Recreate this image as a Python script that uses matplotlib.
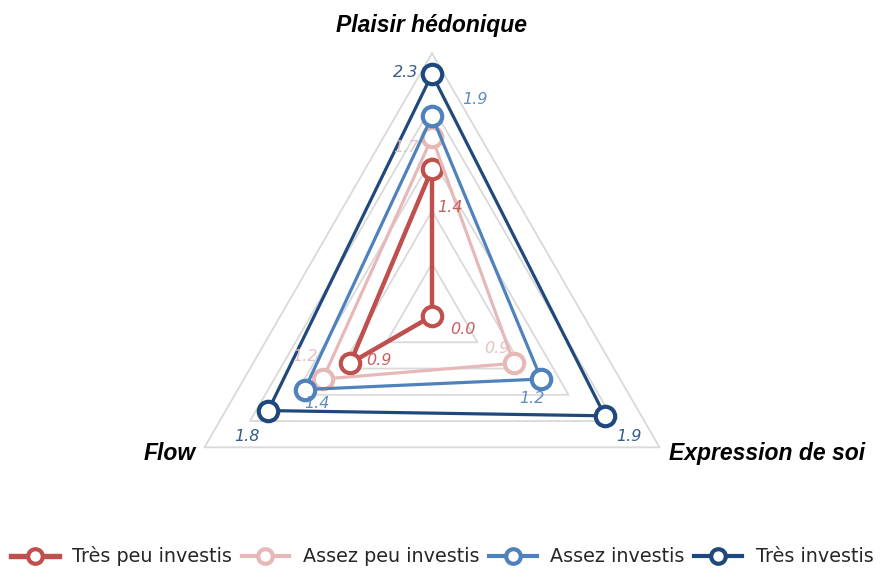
import numpy as np
import matplotlib
matplotlib.use("Agg")
import matplotlib.pyplot as plt
from matplotlib.lines import Line2D

# axes clockwise from top
AXES = ["Plaisir hédonique", "Expression de soi", "Flow"]
SERIES = ["Très peu investis", "Assez peu investis", "Assez investis", "Très investis"]
tres_peu = [1.4, 0.0, 0.9]
assez_peu = [1.7, 0.9, 1.2]
assez = [1.9, 1.2, 1.4]
tres = [2.3, 1.9, 1.8]
VALUES = [tres_peu, assez_peu, assez, tres]
GRID_LEVELS = [0.5, 1.0, 1.5, 2.0, 2.5]
R_MAX = 2.5

COLORS = ["#C0504D", "#E6B9B8", "#4F81BD", "#1F497D"]
WIDTHS = [3.2, 2.3, 2.3, 2.3]
# data-label offsets (points) per series, per axis
LABEL_OFFSETS = [
    [(13, -28), (22, -10), (21, 2)],
    [(-19, -7), (-12, 11), (-13, 16)],
    [(31, 12), (-7, -14), (9, -10)],
    [(-19, 1), (17, -15), (-15, -19)],
]

plt.rcParams["font.family"] = ["DejaVu Sans"]

fig = plt.figure(figsize=(8.84, 5.75), dpi=100)
cx, cy, rad = 432.0, 316.0, 262.7
W, H = 884.0, 575.0
ax = fig.add_axes([(cx - rad) / W, (H - cy - rad) / H, 2 * rad / W, 2 * rad / H],
                  projection="polar")
ax.set_theta_offset(np.pi / 2)
ax.set_theta_direction(-1)
ax.set_ylim(0, R_MAX)
ax.grid(False)
ax.set_xticks([])
ax.set_yticks([])
ax.spines["polar"].set_visible(False)
ax.patch.set_visible(False)

theta = np.linspace(0, 2 * np.pi, len(AXES), endpoint=False)
theta_closed = np.append(theta, theta[0])

for lvl in GRID_LEVELS:
    ax.plot(theta_closed, [lvl] * (len(AXES) + 1), color="#D9D9D9", lw=1.3, zorder=1,
            clip_on=False)

for i, (name, vals) in enumerate(zip(SERIES, VALUES)):
    v = np.append(vals, vals[0])
    ax.plot(theta_closed, v, color=COLORS[i], lw=WIDTHS[i], zorder=2 + i, clip_on=False,
            solid_joinstyle="miter")
    ax.plot(theta, vals, ls="none", marker="o", ms=14, mfc="white", mec=COLORS[i],
            mew=3.0, zorder=2 + i, clip_on=False)
    for k, val in enumerate(vals):
        ax.annotate(f"{val:.1f}", xy=(theta[k], val), xytext=LABEL_OFFSETS[i][k],
                    textcoords="offset points", ha="center", va="center",
                    fontsize=11.5, style="italic", weight="light", color=COLORS[i],
                    alpha=0.9, annotation_clip=False, zorder=10)

cat_offsets = [(0, 20), (7, -4.5), (-6, -4.5)]
cat_ha = ["center", "left", "right"]
for k, name in enumerate(AXES):
    ax.annotate(name, xy=(theta[k], R_MAX), xytext=cat_offsets[k], textcoords="offset points",
                ha=cat_ha[k], va="center", fontsize=16.5, weight="bold", style="italic",
                family="Liberation Sans", color="black", annotation_clip=False)

handles = [Line2D([], [], color=COLORS[i], lw=WIDTHS[i] + 0.7, marker="o", ms=10.5, mfc="white",
                  mec=COLORS[i], mew=3.0) for i in range(len(SERIES))]
fig.legend(handles, SERIES, loc="lower center", bbox_to_anchor=(0.5, -0.015), ncol=4,
           frameon=False, handlelength=2.5, handletextpad=0.7, columnspacing=0.5,
           labelcolor="#262626", prop={"size": 13.8})

fig.savefig("out.png", dpi=100)
